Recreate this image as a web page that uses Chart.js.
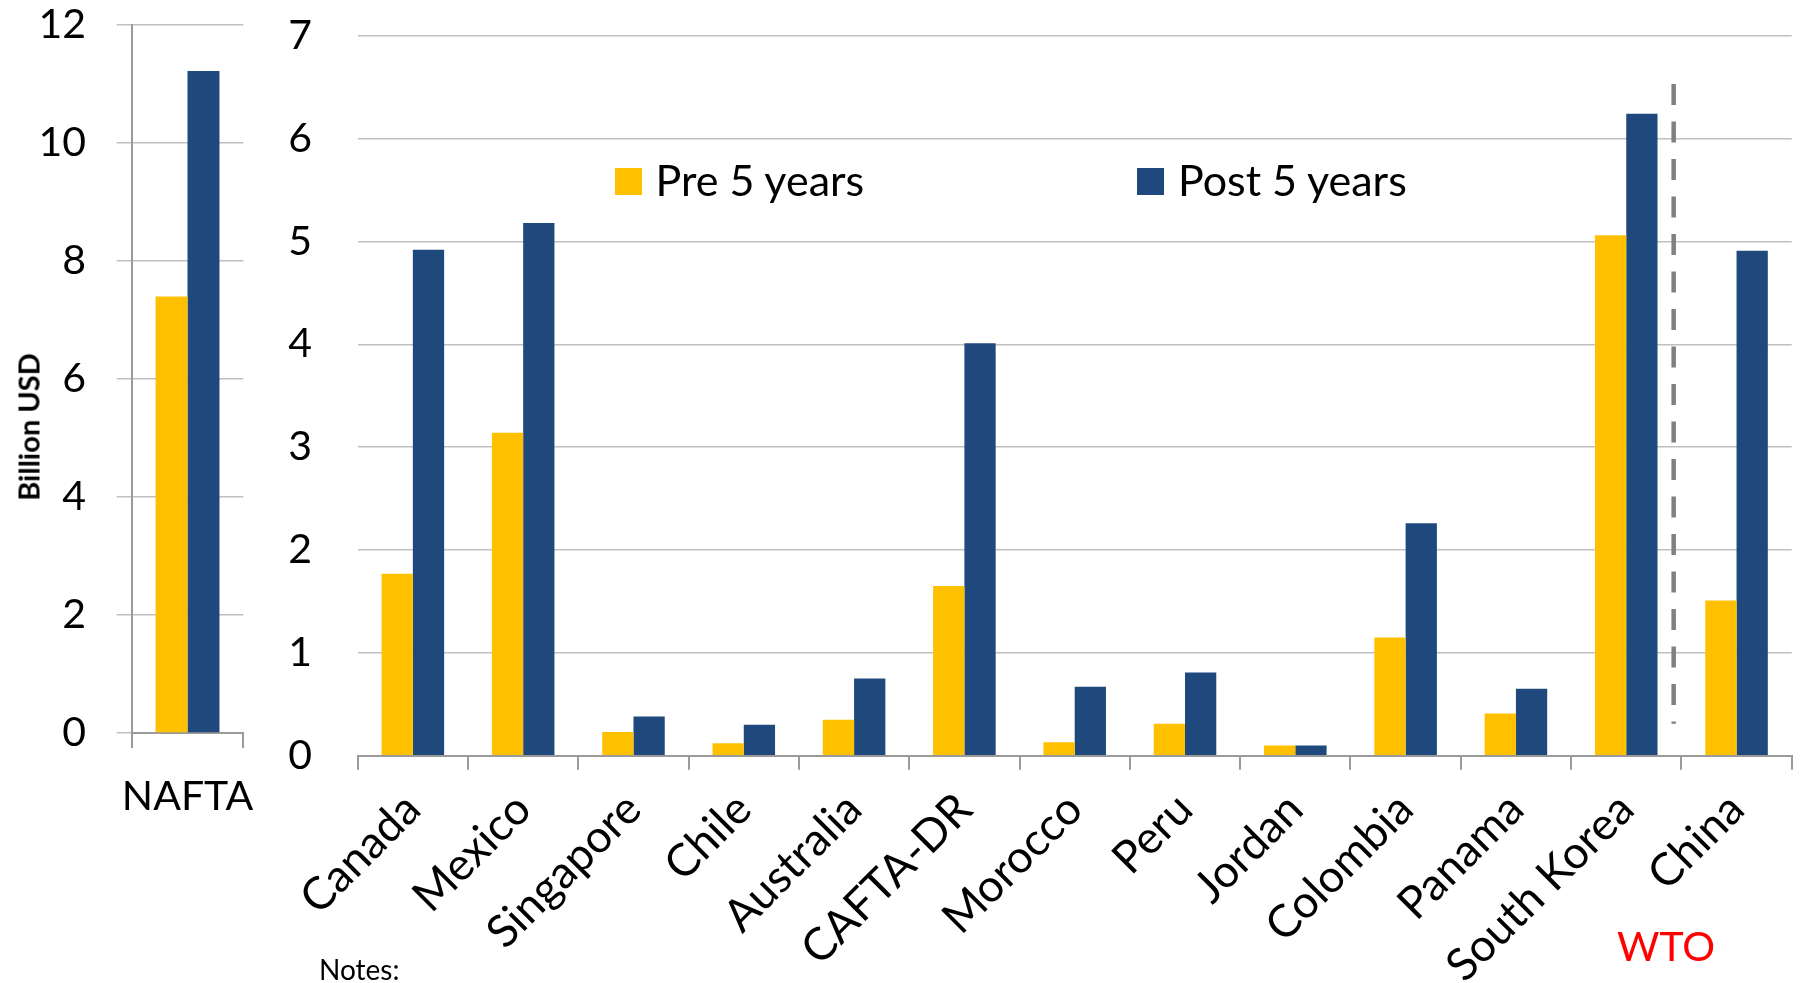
<!DOCTYPE html>
<html>
<head>
<meta charset="utf-8">
<script src="https://cdn.jsdelivr.net/npm/chart.js@4.4.1/dist/chart.umd.min.js"></script>
<style>
  body { margin: 0; background: #fff; }
  #page { position: relative; width: 1802px; height: 983px; overflow: hidden; font-family: Lato, sans-serif; color: #000; }
  #nafta { position: absolute; left: 0; top: 0; }
  #fta { position: absolute; left: 260px; top: 0; }
  .txt { position: absolute; white-space: nowrap; line-height: 1; }
  .legend-item { position: absolute; top: 158px; height: 43px; font-size: 43px; line-height: 43px; white-space: nowrap; }
  .legend-box { position: absolute; top: 10px; width: 27px; height: 27px; }
  .legend-label { position: absolute; top: 0; }
  #ylabel { left: 28px; top: 427px; font-size: 29px; font-weight: bold; transform: translate(-50%, -50%) rotate(-90deg); }
  #wto { left: 1617px; top: 925px; font-size: 41px; color: #ff0000; }
  #notes { left: 319px; top: 955px; font-size: 28px; }
</style>
</head>
<body>
<div id="page">
  <canvas id="nafta" width="260" height="983"></canvas>
  <canvas id="fta" width="1542" height="983"></canvas>
  <div id="legend"></div>
  <div class="txt" id="ylabel">Billion USD</div>
  <div class="txt" id="wto">WTO</div>
  <div class="txt" id="notes">Notes:</div>
</div>
<script>
// series
const seriesNames = ['Pre 5 years', 'Post 5 years']
const preColor = '#FFC000'
const postColor = '#1F497D'

// left panel (NAFTA, own scale)
const naftaLabels = ['NAFTA']
const naftaPre = [7.40]
const naftaPost = [11.22]
const naftaTicks = { min: 0, max: 12, step: 2 }

// right panel
const ftaLabels = ['Canada', 'Mexico', 'Singapore', 'Chile', 'Australia', 'CAFTA-DR',
  'Morocco', 'Peru', 'Jordan', 'Colombia', 'Panama', 'South Korea', 'China']
const ftaPre = [1.77, 3.14, 0.23, 0.12, 0.35, 1.65, 0.13, 0.31, 0.10, 1.15, 0.41, 5.06, 1.51]
const ftaPost = [4.92, 5.18, 0.38, 0.30, 0.75, 4.01, 0.67, 0.81, 0.10, 2.26, 0.65, 6.24, 4.91]
const ftaTicks = { min: 0, max: 7, step: 1 }

// dashed separator before the WTO entry (y range in data units)
const wtoLine = { after: 11, frac: 0.43, from: 0.31, to: 6.53 }

const gridGray = '#C0C0C0'
const axisGray = '#9A9A9A'
const tickFont = { family: 'Lato', size: 41 }
const catFont = { family: 'Lato', size: 45 }

Chart.defaults.font.family = 'Lato'
Chart.defaults.animation = false

function makeDatasets(pre, post, pct) {
  return [
    { label: seriesNames[0], data: pre, backgroundColor: preColor, categoryPercentage: pct, barPercentage: 1 },
    { label: seriesNames[1], data: post, backgroundColor: postColor, categoryPercentage: pct, barPercentage: 1 }
  ]
}

// pin scale sizes and drop the extra room chart.js keeps for overhanging labels,
// so the layout padding alone decides where the plot area sits
function pinSize(prop, size) {
  return s => {
    s[prop] = size
    s.paddingLeft = 0
    s.paddingRight = 0
    s.paddingTop = 0
    s.paddingBottom = 0
  }
}

const wtoPlugin = {
  id: 'wtoLine',
  afterDatasetsDraw(chart) {
    const { ctx, scales: { x, y } } = chart
    const x0 = x.getPixelForValue(wtoLine.after)
    const x1 = x.getPixelForValue(wtoLine.after + 1)
    const px = x0 + (x1 - x0) * wtoLine.frac
    ctx.save()
    ctx.strokeStyle = '#808080'
    ctx.lineWidth = 4.5
    ctx.setLineDash([21, 16.5])
    ctx.beginPath()
    ctx.moveTo(px, y.getPixelForValue(wtoLine.to))
    ctx.lineTo(px, y.getPixelForValue(wtoLine.from))
    ctx.stroke()
    ctx.restore()
  }
}

function draw() {
  new Chart(document.getElementById('nafta'), {
    type: 'bar',
    data: { labels: naftaLabels, datasets: makeDatasets(naftaPre, naftaPost, 0.573) },
    options: {
      responsive: false,
      layout: { padding: { top: 25, right: 16.7, bottom: 0, left: 0 } },
      plugins: { legend: { display: false }, tooltip: { enabled: false } },
      scales: {
        x: {
          grid: { drawOnChartArea: false, color: axisGray, lineWidth: 2, tickLength: 15 },
          border: { color: axisGray, width: 2 },
          ticks: { font: tickFont, color: '#000', padding: 24 },
          afterFit: pinSize('height', 250)
        },
        y: {
          min: naftaTicks.min, max: naftaTicks.max,
          ticks: { stepSize: naftaTicks.step, font: tickFont, color: '#000', padding: 30.7 },
          grid: { color: gridGray, lineWidth: 1.5, tickLength: 15 },
          border: { color: axisGray, width: 2 },
          afterFit: pinSize('width', 131.7)
        }
      }
    }
  })

  new Chart(document.getElementById('fta'), {
    type: 'bar',
    data: { labels: ftaLabels, datasets: makeDatasets(ftaPre, ftaPost, 0.567) },
    options: {
      responsive: false,
      layout: { padding: { top: 35.7, right: 10.3, bottom: 0, left: 0 } },
      plugins: { legend: { display: false }, tooltip: { enabled: false } },
      scales: {
        x: {
          grid: { drawOnChartArea: false, color: axisGray, lineWidth: 2, tickLength: 14 },
          border: { color: axisGray, width: 2 },
          ticks: { font: catFont, color: '#000', padding: 13, minRotation: 45, maxRotation: 45, autoSkip: false },
          afterFit: pinSize('height', 227.3)
        },
        y: {
          min: ftaTicks.min, max: ftaTicks.max,
          ticks: { stepSize: ftaTicks.step, font: tickFont, color: '#000', padding: 45.7 },
          grid: { color: gridGray, lineWidth: 1.5, drawTicks: false },
          border: { display: false },
          afterFit: pinSize('width', 97.7)
        }
      }
    },
    plugins: [wtoPlugin]
  })

  // legend built from the series names / colours
  const legendPos = [615, 1137]
  const legend = document.getElementById('legend')
  seriesNames.forEach((name, i) => {
    const item = document.createElement('div')
    item.className = 'legend-item'
    item.style.left = legendPos[i] + 'px'
    item.innerHTML = '<div class="legend-box" style="left:0;background:' + [preColor, postColor][i] + '"></div>' +
      '<div class="legend-label" style="left:' + (i === 0 ? 40.6 : 41) + 'px">' + name + '</div>'
    legend.appendChild(item)
  })
}

document.fonts.load('41px Lato').then(draw, draw)
</script>
</body>
</html>
